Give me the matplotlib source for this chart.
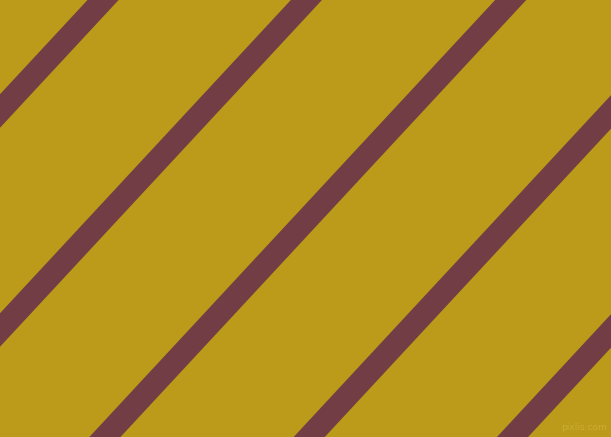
import matplotlib
matplotlib.use('Agg')
import matplotlib.pyplot as plt
import numpy as np

# Canvas size in pixels
width_px = 611
height_px = 437

# Stripe centre lines: y = offset - slope * x (pixel coords, y down)
stripe_slope = 1.077
stripe_offsets = [111, 330, 550, 770, 989]
stripe_vertical_width = 33.5

background_color = '#BB9B19'
stripe_color = '#723D45'

fig = plt.figure(figsize=(width_px / 100, height_px / 100), dpi=100)
ax = fig.add_axes([0, 0, 1, 1])
ax.set_xlim(0, width_px)
ax.set_ylim(height_px, 0)
ax.set_facecolor(background_color)
fig.patch.set_facecolor(background_color)
ax.axis('off')

xs = np.array([-20, width_px + 20])
half = stripe_vertical_width / 2
for c in stripe_offsets:
    centre = c - stripe_slope * xs
    ax.fill_between(xs, centre - half, centre + half, color=stripe_color,
                    linewidth=0, antialiased=True)

# Small watermark at bottom right
ax.text(607, 428, 'pixlis.com', fontsize=6.5, color='#D2B23A', ha='right', va='center',
        alpha=0.8)

fig.savefig('out.png', dpi=100, facecolor=background_color)
